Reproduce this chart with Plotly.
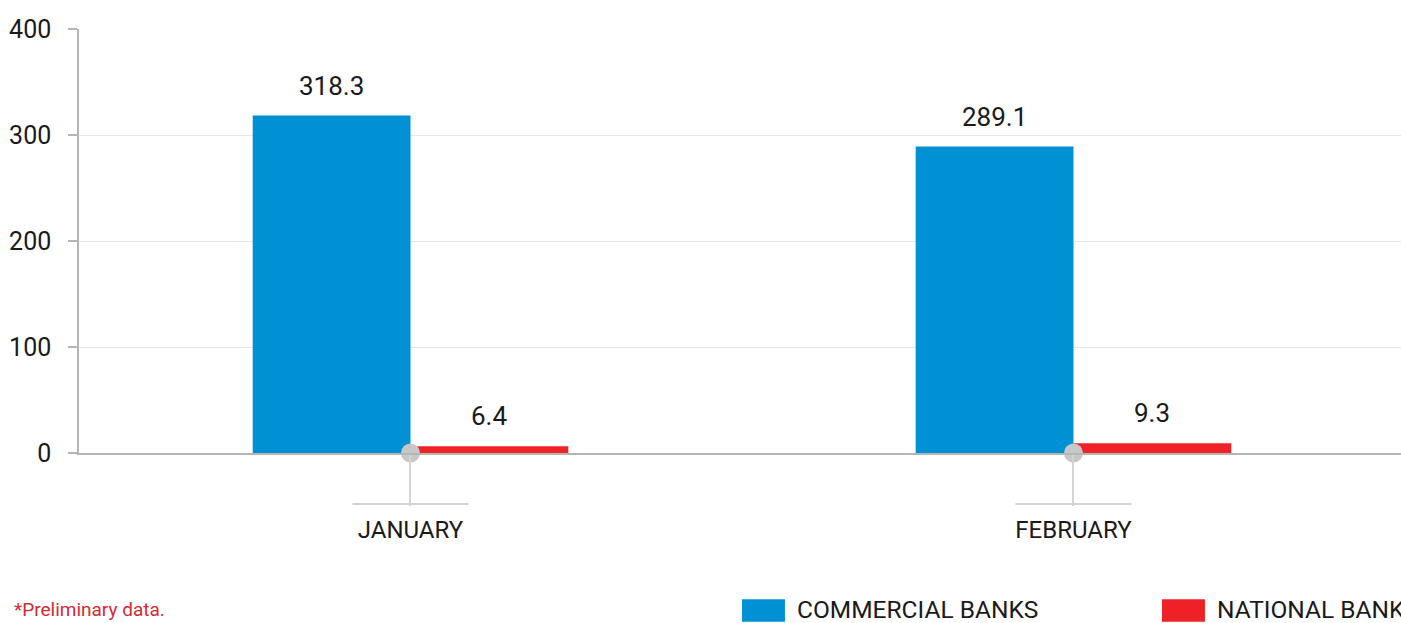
import plotly.graph_objects as go

categories = ["JANUARY", "FEBRUARY"]
commercial_banks = [318.3, 289.1]
national_bank = [6.4, 9.3]
series_names = ["COMMERCIAL BANKS", "NATIONAL BANK"]
footnote = "*Preliminary data."
y_ticks = [0, 100, 200, 300, 400]

BLUE = "#0091d5"
RED = "#ee2127"
GRAY_DOT = "#c6c7c9"
AXIS = "#b5b5b5"
GRID = "#e6e6e6"
TXT = "#1a1a1a"
FONT = "Roboto"

BAR_W = 0.238

fig = go.Figure()
fig.add_trace(go.Bar(x=categories, y=commercial_banks, width=BAR_W, offset=-BAR_W,
                     marker=dict(color=BLUE, line=dict(width=0)), name=series_names[0],
                     hoverinfo="y"))
fig.add_trace(go.Bar(x=categories, y=national_bank, width=BAR_W, offset=0,
                     marker=dict(color=RED, line=dict(width=0)), name=series_names[1],
                     hoverinfo="y"))
fig.add_trace(go.Scatter(x=categories, y=[0] * len(categories), mode="markers",
                         marker=dict(size=19, color=GRAY_DOT), cliponaxis=False,
                         hoverinfo="skip", showlegend=False))

annotations = []
for i, cat in enumerate(categories):
    for val, off in ((commercial_banks[i], -BAR_W / 2), (national_bank[i], BAR_W / 2)):
        annotations.append(dict(x=i + off, y=val, xref="x", yref="y", text=f"{val:.1f}",
                                showarrow=False, yanchor="bottom", yshift=13,
                                font=dict(family=FONT, size=26, color=TXT)))

shapes = []
for i, cat in enumerate(categories):
    shapes.append(dict(type="line", xref="x", yref="paper", x0=i - 0.0875, x1=i + 0.0875,
                       y0=-0.1203, y1=-0.1203, line=dict(color="#d3d3d3", width=2)))

# custom legend
legend_items = [(series_names[0], BLUE, 0.5015), (series_names[1], RED, 0.8192)]
for name, col, x0 in legend_items:
    shapes.append(dict(type="rect", xref="paper", yref="paper", x0=x0, x1=x0 + 0.0325,
                       y0=-0.398, y1=-0.345, fillcolor=col, line=dict(width=0)))
    annotations.append(dict(x=x0 + 0.0325 + 0.0076, y=-0.37, xref="paper", yref="paper",
                            text=name, showarrow=False, xanchor="left", yanchor="middle",
                            font=dict(family=FONT, size=24.5, color=TXT)))

annotations.append(dict(x=-0.0507, y=-0.37, xref="paper", yref="paper", text=footnote,
                        showarrow=False, xanchor="left", yanchor="middle",
                        font=dict(family=FONT, size=19, color="#d42a34")))

fig.update_layout(
    width=1401, height=623,
    margin=dict(l=79, r=0, t=29, b=170),
    paper_bgcolor="white", plot_bgcolor="white",
    showlegend=False,
    barmode="overlay",
    annotations=annotations,
    shapes=shapes,
    font=dict(family=FONT, color=TXT),
)
fig.update_yaxes(range=[0, 400], tickvals=y_ticks, showgrid=True, gridcolor=GRID, gridwidth=1,
                 showline=True, linecolor=AXIS, linewidth=1.5, ticks="outside", ticklen=9,
                 tickcolor=AXIS, tickwidth=1.5, zeroline=False,
                 tickfont=dict(family=FONT, size=25, color=TXT), ticklabelstandoff=12)
fig.update_xaxes(type="category", range=[-0.5, 1.494], showline=True, linecolor=AXIS,
                 linewidth=1.5, ticks="outside", ticklen=51, tickcolor="#d3d3d3", tickwidth=2,
                 tickfont=dict(family=FONT, size=24, color=TXT), ticklabelstandoff=3,
                 showgrid=False)

fig.write_html("out.html", config={"displayModeBar": False},
               post_script="document.body.style.margin='0';document.body.style.overflow='hidden';")
